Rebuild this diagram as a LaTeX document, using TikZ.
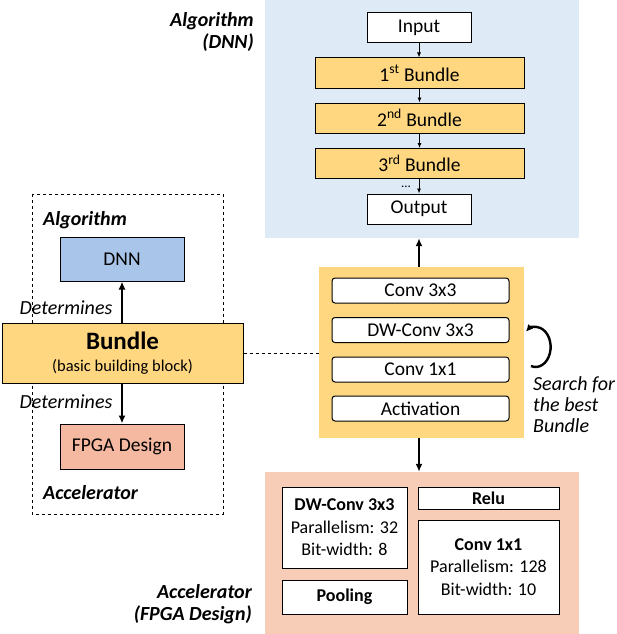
\documentclass[tikz,border=0pt]{standalone}
\usepackage{fontspec}
\setmainfont{Carlito}
\usetikzlibrary{arrows.meta}
\definecolor{dnnbg}{HTML}{DEEBF7}
\definecolor{bundlefill}{HTML}{FFD780}
\definecolor{dnnfill}{HTML}{A9C6EA}
\definecolor{fpgafill}{HTML}{F4B9A0}
\definecolor{accbg}{HTML}{F8CDB8}
\tikzset{layer/.style = {draw, fill=white, line width=1pt, rectangle, inner sep=0pt, font=\fontsize{19.5}{22}\selectfont},
         bblock/.style = {layer, fill=bundlefill},
         op/.style = {layer, rounded corners=3pt, minimum width=177pt, minimum height=25pt},
         unit/.style = {layer, align=center, font=\fontsize{18}{22.5}\selectfont},
         tag/.style = {inner sep=0pt, font=\fontsize{20}{22}\selectfont\bfseries\itshape},
         note/.style = {inner sep=0pt, font=\fontsize{20}{21}\selectfont\itshape},
         thin arrow/.style = {-{Latex[length=5pt,width=4pt]}, line width=0.8pt},
         thick arrow/.style = {-{Latex[length=8pt,width=7pt]}, line width=2.5pt}}

\begin{document}
\begin{tikzpicture}[x=1pt, y=-1pt]
    \useasboundingbox (0,0) rectangle (616,634);
    % DNN side
    \node[fill=dnnbg, minimum width=314pt, minimum height=238pt, inner sep=0pt](dnn_bg)at(422,119){};
    \node[tag, anchor=east, align=right](alg_tag)at(254,32){Algorithm\\(DNN)};
    \node[layer, minimum width=104pt, minimum height=30pt](inp)at(419,28){Input};
    \node[bblock, minimum width=209pt, minimum height=30pt](b1)at(419.5,73){1\textsuperscript{st} Bundle};
    \node[bblock, minimum width=209pt, minimum height=30pt](b2)at(419.5,118){2\textsuperscript{nd} Bundle};
    \node[bblock, minimum width=209pt, minimum height=30pt](b3)at(419.5,163.5){3\textsuperscript{rd} Bundle};
    \node[inner sep=0pt, font=\fontsize{13}{14}\selectfont](dots)at(406,187){...};
    \node[layer, minimum width=104pt, minimum height=30pt](outp)at(419,209){Output};
    \draw[thin arrow](inp)--(inp |- b1.north);
    \draw[thin arrow](b1)--(b1 |- b2.north);
    \draw[thin arrow](b2)--(b2 |- b3.north);
    \draw[thin arrow](b3.south -| outp)--(outp);

    % left: co-design
    \draw[dashed, line width=0.9pt](32,194) rectangle (223,514);
    \node[tag, anchor=west](alg_lbl)at(43,220){Algorithm};
    \node[layer, fill=dnnfill, minimum width=124pt, minimum height=44pt](dnn)at(122,259){DNN};
    \node[bblock, minimum width=241pt, minimum height=60pt, align=center](bundle)at(122.5,353)
        {{\fontsize{25}{26}\selectfont\bfseries Bundle}\\[0pt]{\fontsize{16.5}{18}\selectfont (basic building block)}};
    \node[layer, fill=fpgafill, minimum width=124pt, minimum height=45pt](fpga)at(122,446.5){FPGA Design};
    \node[tag, anchor=west](acc_lbl)at(43,493){Accelerator};
    \node[note](det_up)at(66,308){Determines};
    \node[note](det_down)at(66,402){Determines};
    \draw[thick arrow](bundle.north -| dnn)--(dnn.south);
    \draw[thick arrow](bundle.south -| fpga)--(fpga.north);

    % middle: bundle search
    \node[fill=bundlefill, minimum width=205pt, minimum height=171pt, inner sep=0pt](search)at(421.5,352.5){};
    \node[op](c33)at(420.5,290.5){Conv 3x3};
    \node[op](dw33)at(420.5,330){DW-Conv 3x3};
    \node[op](c11)at(420.5,369.5){Conv 1x1};
    \node[op](act)at(420.5,408.5){Activation};
    \draw[dashed, line width=0.9pt](bundle.east)--(search.west |- bundle.east);
    \draw[-{Latex[length=7pt,width=7pt]}, line width=2.4pt](531,366) arc[start angle=108, end angle=-130, x radius=15, y radius=20];
    \node[note, anchor=north west, align=left](search_txt)at(533,376){Search for\\the best\\Bundle};
    \draw[thick arrow](search.north -| inp)--(dnn_bg.south -| inp);

    % accelerator side
    \node[fill=accbg, minimum width=314pt, minimum height=162pt, inner sep=0pt](acc_bg)at(422,553){};
    \draw[thick arrow](search.south -| inp)--(acc_bg.north -| inp);
    \node[tag, anchor=east, align=right](acc_tag)at(252,604){Accelerator\\(FPGA Design)};
    \node[unit, minimum width=125pt, minimum height=81pt](dw_unit)at(344.5,527.5){\textbf{DW-Conv 3x3}\\Parallelism: 32\\Bit-width: 8};
    \node[unit, minimum width=125pt, minimum height=34pt](pool)at(344.5,597){\textbf{Pooling}};
    \node[unit, minimum width=141pt, minimum height=22pt](relu)at(488.5,498){\textbf{Relu}};
    \node[unit, minimum width=141pt, minimum height=94pt](c11_unit)at(488.5,567){\textbf{Conv 1x1}\\Parallelism: 128\\Bit-width: 10};
\end{tikzpicture}
\end{document}
